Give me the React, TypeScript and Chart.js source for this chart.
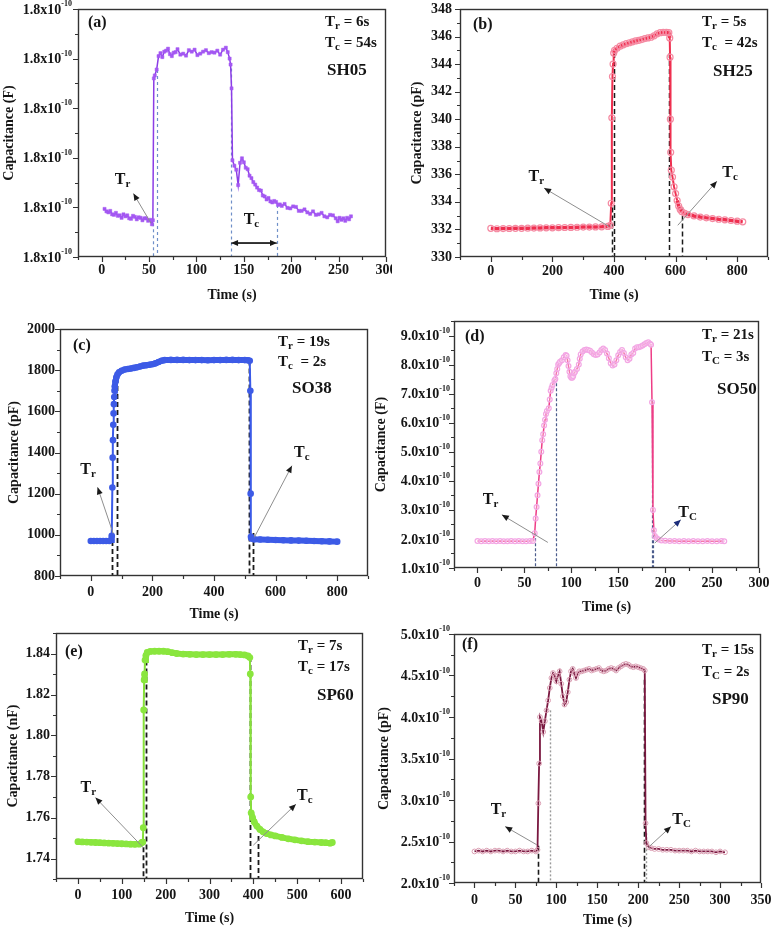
import React, { useEffect, useRef } from 'react';
import { Chart, registerables } from 'chart.js';
Chart.register(...registerables);

const SERIF = '"Liberation Serif", "Times New Roman", Times, serif';
const INK = '#151515';

// ---------------- data ----------------
// (a) SH05, capacitance in units of 1e-10 F
const aTime = [3,5,7,9,11,13,15,17,19,21,23,25,27,29,31,33,35,37,39,41,43,45,47,49,51,53,54,55,56,58,60,62,64,66,68,70,72,74,76,78,80,83,86,89,92,95,98,101,104,107,110,113,116,119,122,125,128,131,133,135,136,137,138,140,142,144,146,148,150,152,154,156,158,160,162,164,166,168,170,172,174,176,178,180,182,184,186,188,190,193,196,199,202,205,208,211,214,217,220,223,226,229,232,235,238,241,244,247,249,251,253,255,257,259,261,263];
const aCap = [1.7897,1.7892,1.7890,1.7893,1.7886,1.7885,1.7889,1.7883,1.7884,1.7879,1.7886,1.7882,1.7884,1.7878,1.7877,1.7883,1.7881,1.7876,1.7880,1.7879,1.7874,1.7878,1.7878,1.7873,1.7875,1.7866,1.7874,1.8160,1.8166,1.8178,1.8205,1.8211,1.8203,1.8214,1.8216,1.8220,1.8209,1.8205,1.8212,1.8213,1.8219,1.8208,1.8210,1.8206,1.8217,1.8214,1.8218,1.8207,1.8210,1.8214,1.8217,1.8211,1.8213,1.8212,1.8216,1.8208,1.8218,1.8222,1.8213,1.8200,1.8188,1.8140,1.7995,1.7984,1.7976,1.7945,1.7990,1.7999,1.7991,1.7980,1.7977,1.7964,1.7959,1.7951,1.7946,1.7940,1.7935,1.7934,1.7924,1.7922,1.7916,1.7919,1.7912,1.7910,1.7913,1.7911,1.7905,1.7906,1.7903,1.7907,1.7899,1.7898,1.7902,1.7901,1.7893,1.7893,1.7896,1.7890,1.7887,1.7892,1.7885,1.7886,1.7889,1.7882,1.7880,1.7885,1.7884,1.7878,1.7872,1.7879,1.7875,1.7878,1.7873,1.7879,1.7876,1.7882];
const aXTicks = [0,50,100,150,200,250,300];
const aXMinor = [-25,25,75,125,175,225,275];
const aYTicks = [1.78,1.79,1.80,1.81,1.82,1.83];
const aYMinor = [1.785,1.795,1.805,1.815,1.825];

// (b) SH25, pF
const bTime = [0,20,40,60,80,100,120,140,160,180,200,220,240,260,280,300,320,340,360,380,388,391,393,395,397,399,402,410,420,430,440,450,460,470,480,490,500,510,520,530,540,550,560,570,578,581,582,583,584,586,590,595,600,605,610,615,620,630,640,660,680,700,720,740,760,780,800,818];
const bCap = [332.08,332.05,332.06,332.07,332.08,332.08,332.09,332.10,332.11,332.12,332.12,332.13,332.14,332.15,332.16,332.17,332.17,332.18,332.19,332.22,332.30,333.90,340.10,343.10,344.00,344.80,345.00,345.15,345.30,345.40,345.48,345.55,345.62,345.68,345.73,345.78,345.85,345.90,345.95,346.05,346.20,346.28,346.30,346.30,346.28,345.90,344.50,340.00,337.60,336.30,335.80,335.10,334.60,334.10,333.70,333.45,333.30,333.17,333.08,332.98,332.90,332.84,332.79,332.74,332.70,332.65,332.60,332.55];
const bXTicks = [0,200,400,600,800];
const bXMinor = [-100,100,300,500,700,900];
const bYTicks = [330,332,334,336,338,340,342,344,346,348];
const bYMinor = [331,333,335,337,339,341,343,345,347];

// (c) SO38, pF
const cTime = [0,10,20,30,40,50,60,66,68,70,71,72,73,74,75,76,77,78,80,83,87,92,100,110,120,130,140,150,160,170,180,190,200,210,220,230,240,260,280,300,320,340,360,380,400,420,440,460,480,500,510,516,518,519,520,522,530,550,575,600,625,650,675,700,725,750,775,800];
const cCap = [970,970,970,970,970,970,970,975,995,1230,1375,1460,1535,1590,1635,1670,1700,1722,1745,1765,1780,1790,1797,1803,1806,1808,1811,1814,1818,1822,1824,1826,1829,1833,1840,1846,1849,1850,1850,1850,1849,1849,1849,1848,1849,1849,1850,1850,1849,1849,1848,1846,1700,1200,990,982,978,977,976,975,974,973,972,971,970,969,968,967];
const cXTicks = [0,200,400,600,800];
const cXMinor = [-100,100,300,500,700,900];
const cYTicks = [800,1000,1200,1400,1600,1800,2000];
const cYMinor = [900,1100,1300,1500,1700,1900];

// (d) SO50, capacitance in units of 1e-10 F
const dTime = [0,4,8,12,16,20,24,28,32,36,40,44,48,52,56,59,61,62,63,64,65,66,67,68,69,70,71,72,73,74,76,77,78,79,80,82,83,84,85,86,87,88,90,92,94,95,96,97,98,99,100,101,102,103,104,106,108,109,110,112,114,116,118,120,122,124,126,128,130,132,134,136,138,140,142,144,146,148,150,152,154,156,158,160,162,164,166,168,170,172,174,176,178,180,182,184,185,186,187,188,189,191,193,196,200,205,210,215,220,225,230,235,240,245,250,255,260,263];
const dCap = [1.93,1.92,1.93,1.92,1.93,1.92,1.93,1.92,1.92,1.93,1.92,1.93,1.92,1.92,1.93,1.93,2.2,2.7,3.1,3.5,3.9,4.3,4.6,5.0,5.4,5.6,5.9,6.1,6.3,6.4,6.5,6.8,7.1,7.2,7.3,7.45,7.5,7.7,7.85,8.0,8.05,8.1,8.15,8.25,8.33,8.3,8.15,7.95,7.75,7.6,7.55,7.55,7.6,7.7,7.75,7.85,8.0,8.2,8.35,8.45,8.5,8.52,8.5,8.48,8.42,8.36,8.33,8.35,8.42,8.5,8.55,8.5,8.38,8.22,8.05,7.97,8.0,8.15,8.32,8.43,8.5,8.4,8.25,8.15,8.2,8.35,8.4,8.55,8.6,8.6,8.62,8.66,8.7,8.74,8.77,8.72,8.68,6.7,3.0,2.3,2.1,2.02,1.98,1.95,1.94,1.93,1.93,1.92,1.93,1.92,1.93,1.92,1.92,1.93,1.92,1.92,1.93,1.92];
const dXTicks = [0,50,100,150,200,250,300];
const dXMinor = [-25,25,75,125,175,225,275];
const dYTicks = [1,2,3,4,5,6,7,8,9];
const dYMinor = [1.5,2.5,3.5,4.5,5.5,6.5,7.5,8.5,9.5];

// (e) SP60, nF
const eTime = [0,10,20,30,40,50,60,70,80,90,100,110,120,130,140,146,148,149,150,151,152,153,155,158,165,175,185,195,205,215,225,240,255,270,285,300,315,330,345,360,370,380,388,392,393,394,395,398,402,408,415,422,430,440,450,465,480,495,510,525,540,555,565,575,580];
const eCap = [1.7482,1.7481,1.7480,1.7479,1.7478,1.7477,1.7476,1.7475,1.7474,1.7473,1.7472,1.7471,1.7470,1.7469,1.7470,1.7478,1.7480,1.7550,1.8125,1.8271,1.8300,1.8368,1.8390,1.8405,1.8410,1.8411,1.8411,1.8411,1.8409,1.8404,1.8400,1.8397,1.8396,1.8395,1.8395,1.8395,1.8395,1.8395,1.8396,1.8396,1.8395,1.8393,1.8388,1.8380,1.8300,1.7700,1.7623,1.7600,1.7578,1.7558,1.7542,1.7530,1.7522,1.7515,1.7510,1.7503,1.7496,1.7491,1.7486,1.7482,1.7480,1.7478,1.7477,1.7475,1.7478];
const eXTicks = [0,100,200,300,400,500,600];
const eXMinor = [-50,50,150,250,350,450,550,650];
const eYTicks = [1.74,1.76,1.78,1.80,1.82,1.84];
const eYMinor = [1.73,1.75,1.77,1.79,1.81,1.83,1.85];

// (f) SP90, capacitance in units of 1e-10
const fTime = [0,5,10,15,20,25,30,35,40,45,50,55,60,65,70,75,77,78,79,80,82,84,86,88,90,92,94,96,98,100,102,104,106,108,110,112,114,116,118,120,122,124,126,128,131,134,137,140,143,146,149,152,155,158,161,164,167,170,173,176,179,182,185,188,191,194,197,200,203,206,208,209,210,213,216,220,225,230,235,240,245,250,255,260,265,270,275,280,285,290,295,300,306];
const fCap = [2.38,2.39,2.38,2.39,2.38,2.39,2.39,2.38,2.39,2.38,2.38,2.39,2.38,2.38,2.39,2.38,2.40,2.96,3.44,4.00,3.95,3.82,3.95,4.08,4.20,4.35,4.47,4.53,4.50,4.43,4.50,4.55,4.40,4.25,4.15,4.18,4.30,4.45,4.55,4.58,4.52,4.47,4.52,4.55,4.55,4.56,4.57,4.58,4.56,4.57,4.58,4.59,4.56,4.55,4.56,4.58,4.59,4.58,4.56,4.59,4.61,4.63,4.64,4.63,4.61,4.60,4.61,4.60,4.59,4.58,4.56,2.72,2.48,2.43,2.42,2.41,2.41,2.40,2.40,2.40,2.39,2.39,2.39,2.39,2.38,2.39,2.38,2.38,2.38,2.38,2.37,2.38,2.37];
const fXTicks = [0,50,100,150,200,250,300,350];
const fXMinor = [-25,25,75,125,175,225,275,325];
const fYTicks = [2.0,2.5,3.0,3.5,4.0,4.5,5.0];
const fYMinor = [2.25,2.75,3.25,3.75,4.25,4.75];

// ---------------- panel configs ----------------
type Seg = [string, number, number];
interface VLine { x: number; y: number; color: string; dash: number[]; w: number }
interface Arrow { x0: number; y0: number; x1: number; y1: number; head: string }
interface Mark { x: number; y: number; sub: string }
interface Cfg {
  box: number[]; area: number[];
  xMin: number; xMax: number; yMin: number; yMax: number;
  xTicks: number[]; xMinor: number[]; yTicks: number[]; yMinor: number[];
  sci: boolean; yDigits: number;
  yTitle: string; yTitleX: number; yLabelRight: number; xLabelY: number; xTitleY: number;
  xs: number[]; ys: number[]; style: any; thick?: number;
  vlines: VLine[]; arrows: Arrow[]; dbl?: { x0: number; x1: number; y: number }; marks: Mark[];
  tag: string; tagPos: number[];
  info: { dx: number; dy1: number; dy2: number; s1: string; r1: string; s2: string; r2: string };
  name: { text: string; dx: number; dy: number };
}

const BLK = '#1a1a1a';
const panels: Cfg[] = [
  {
    box: [0, 0, 392, 305], area: [78, 9, 386, 257],
    xMin: -25, xMax: 300, yMin: 1.78, yMax: 1.83,
    xTicks: aXTicks, xMinor: aXMinor, yTicks: aYTicks, yMinor: aYMinor, sci: true, yDigits: 1,
    yTitle: 'Capacitance (F)', yTitleX: 9, yLabelRight: 72, xLabelY: 270, xTitleY: 295,
    xs: aTime, ys: aCap,
    style: { borderColor: '#8b3de6', borderWidth: 1.5, pointStyle: 'rect', pointRadius: 2.2, pointBackgroundColor: '#a458f2', pointBorderColor: '#a458f2', pointBorderWidth: 0.5 },
    vlines: [
      { x: 54, y: 1.7868, color: '#6f8fc8', dash: [3, 3], w: 1.2 },
      { x: 58.5, y: 1.8177, color: '#6f8fc8', dash: [3, 3], w: 1.2 },
      { x: 136.5, y: 1.8180, color: '#6f8fc8', dash: [3, 3], w: 1.2 },
      { x: 185, y: 1.7905, color: '#6f8fc8', dash: [3, 3], w: 1.2 },
    ],
    arrows: [{ x0: 52, y0: 1.7868, x1: 33.5, y1: 1.7928, head: BLK }],
    dbl: { x0: 136.5, x1: 185, y: 1.7828 },
    marks: [{ x: 22, y: 1.7955, sub: 'r' }, { x: 158, y: 1.7875, sub: 'c' }],
    tag: '(a)', tagPos: [10, 14],
    info: { dx: 247, dy1: 13, dy2: 34, s1: 'r', r1: ' = 6s', s2: 'c', r2: ' = 54s' },
    name: { text: 'SH05', dx: 249, dy: 62 },
  },
  {
    box: [400, 0, 374, 305], area: [460, 9, 768, 257],
    xMin: -100, xMax: 900, yMin: 330, yMax: 348,
    xTicks: bXTicks, xMinor: bXMinor, yTicks: bYTicks, yMinor: bYMinor, sci: false, yDigits: 0,
    yTitle: 'Capacitance (pF)', yTitleX: 417, yLabelRight: 452, xLabelY: 271.7, xTitleY: 295,
    xs: bTime, ys: bCap, thick: 3.5,
    style: { borderColor: '#ef2f4f', borderWidth: 2, pointRadius: 3, pointBackgroundColor: 'rgba(255,255,255,0)', pointBorderColor: '#f58aa2', pointBorderWidth: 1.2 },
    vlines: [
      { x: 392.5, y: 333.6, color: BLK, dash: [5, 3], w: 1.5 },
      { x: 401, y: 344.8, color: BLK, dash: [5, 3], w: 1.5 },
      { x: 579, y: 344.8, color: BLK, dash: [5, 3], w: 1.5 },
      { x: 620, y: 333.6, color: BLK, dash: [5, 3], w: 1.5 },
    ],
    arrows: [
      { x0: 385, y0: 332.2, x1: 173, y1: 335.0, head: BLK },
      { x0: 607, y0: 332.3, x1: 734, y1: 335.5, head: BLK },
    ],
    marks: [{ x: 148, y: 335.8, sub: 'r' }, { x: 777, y: 336.1, sub: 'c' }],
    tag: '(b)', tagPos: [13, 16],
    info: { dx: 242, dy1: 13, dy2: 34, s1: 'r', r1: ' = 5s', s2: 'c', r2: '  = 42s' },
    name: { text: 'SH25', dx: 253, dy: 63 },
  },
  {
    box: [0, 315, 385, 310], area: [60, 329, 368, 576],
    xMin: -100, xMax: 900, yMin: 800, yMax: 2000,
    xTicks: cXTicks, xMinor: cXMinor, yTicks: cYTicks, yMinor: cYMinor, sci: false, yDigits: 0,
    yTitle: 'Capacitance (pF)', yTitleX: 14, yLabelRight: 55, xLabelY: 592.7, xTitleY: 614,
    xs: cTime, ys: cCap, thick: 6,
    style: { borderColor: '#3a5ae8', borderWidth: 2, pointRadius: 3.3, pointBackgroundColor: '#3d5be6', pointBorderColor: '#3d5be6', pointBorderWidth: 0 },
    vlines: [
      { x: 68, y: 1009, color: BLK, dash: [5, 3], w: 1.8 },
      { x: 86, y: 1762, color: BLK, dash: [5, 3], w: 1.8 },
      { x: 515, y: 1847, color: BLK, dash: [5, 3], w: 1.8 },
      { x: 525.5, y: 1009, color: BLK, dash: [5, 3], w: 1.8 },
    ],
    arrows: [
      { x0: 72.5, y0: 1007, x1: 22, y1: 1231, head: BLK },
      { x0: 531, y0: 988, x1: 653, y1: 1336, head: BLK },
    ],
    marks: [{ x: -9, y: 1315, sub: 'r' }, { x: 685, y: 1396, sub: 'c' }],
    tag: '(c)', tagPos: [13, 17],
    info: { dx: 218, dy1: 13, dy2: 33, s1: 'r', r1: ' = 19s', s2: 'c', r2: '  = 2s' },
    name: { text: 'SO38', dx: 232, dy: 60 },
  },
  {
    box: [370, 315, 404, 310], area: [454, 321, 759, 568],
    xMin: -25, xMax: 300, yMin: 1, yMax: 9.5,
    xTicks: dXTicks, xMinor: dXMinor, yTicks: dYTicks, yMinor: dYMinor, sci: true, yDigits: 1,
    yTitle: 'Capacitance (F)', yTitleX: 381, yLabelRight: 450, xLabelY: 583.3, xTitleY: 607,
    xs: dTime, ys: dCap,
    style: { borderColor: '#ee3d86', borderWidth: 1.5, pointRadius: 2.4, pointBackgroundColor: 'rgba(255,255,255,0.3)', pointBorderColor: '#f3a6e4', pointBorderWidth: 1.2 },
    vlines: [
      { x: 61.5, y: 2.2, color: '#4b5c8c', dash: [3, 2], w: 1.2 },
      { x: 84, y: 7.53, color: '#4b5c8c', dash: [3, 2], w: 1.2 },
      { x: 185.5, y: 6.77, color: '#4b5c8c', dash: [3, 2], w: 1.2 },
      { x: 187.5, y: 2.3, color: '#4b5c8c', dash: [3, 2], w: 1.2 },
    ],
    arrows: [
      { x0: 75, y0: 1.88, x1: 26, y1: 2.83, head: BLK },
      { x0: 189, y0: 1.86, x1: 216.7, y1: 2.66, head: '#1c2d7a' },
    ],
    marks: [{ x: 14, y: 3.34, sub: 'r' }, { x: 224, y: 2.89, sub: 'C' }],
    tag: '(d)', tagPos: [11, 16],
    info: { dx: 248, dy1: 14, dy2: 36, s1: 'r', r1: ' = 21s', s2: 'C', r2: ' = 3s' },
    name: { text: 'SO50', dx: 263, dy: 69 },
  },
  {
    box: [0, 625, 385, 305], area: [56, 633, 363, 879],
    xMin: -50, xMax: 650, yMin: 1.73, yMax: 1.85,
    xTicks: eXTicks, xMinor: eXMinor, yTicks: eYTicks, yMinor: eYMinor, sci: false, yDigits: 2,
    yTitle: 'Capacitance (nF)', yTitleX: 13, yLabelRight: 50, xLabelY: 895, xTitleY: 918,
    xs: eTime, ys: eCap, thick: 6,
    style: { borderColor: '#86e03a', borderWidth: 2, pointRadius: 3.4, pointBackgroundColor: '#8ae63e', pointBorderColor: '#8ae63e', pointBorderWidth: 0 },
    vlines: [
      { x: 147.4, y: 1.7494, color: BLK, dash: [5, 3], w: 1.8 },
      { x: 155, y: 1.8405, color: BLK, dash: [5, 3], w: 1.8 },
      { x: 392, y: 1.8383, color: BLK, dash: [5, 3], w: 1.8 },
      { x: 409.6, y: 1.751, color: BLK, dash: [5, 3], w: 1.8 },
    ],
    arrows: [
      { x0: 149, y0: 1.7453, x1: 40, y1: 1.7697, head: BLK },
      { x0: 400, y0: 1.7465, x1: 497, y1: 1.7665, head: BLK },
    ],
    marks: [{ x: 23.5, y: 1.7745, sub: 'r' }, { x: 517.5, y: 1.7704, sub: 'c' }],
    tag: '(e)', tagPos: [9, 19],
    info: { dx: 242, dy1: 13, dy2: 34, s1: 'r', r1: ' = 7s', s2: 'c', r2: ' = 17s' },
    name: { text: 'SP60', dx: 261, dy: 63 },
  },
  {
    box: [370, 625, 404, 305], area: [454, 634, 761, 883],
    xMin: -25, xMax: 350, yMin: 2, yMax: 5,
    xTicks: fXTicks, xMinor: fXMinor, yTicks: fYTicks, yMinor: fYMinor, sci: true, yDigits: 1,
    yTitle: 'Capacitance (pF)', yTitleX: 384, yLabelRight: 450, xLabelY: 900, xTitleY: 920,
    xs: fTime, ys: fCap,
    style: { borderColor: '#7a1840', borderWidth: 1.8, pointRadius: 2.4, pointBackgroundColor: 'rgba(0,0,0,0)', pointBorderColor: '#dba0b4', pointBorderWidth: 1 },
    vlines: [
      { x: 77.4, y: 2.45, color: BLK, dash: [5, 3], w: 1.6 },
      { x: 92, y: 4.08, color: '#9a9a9a', dash: [2, 2], w: 1.4 },
      { x: 207, y: 4.45, color: BLK, dash: [5, 3], w: 1.6 },
      { x: 209, y: 2.6, color: '#9a9a9a', dash: [2, 2], w: 1.4 },
    ],
    arrows: [
      { x0: 76.2, y0: 2.46, x1: 37.5, y1: 2.68, head: BLK },
      { x0: 212.5, y0: 2.43, x1: 240, y1: 2.68, head: BLK },
    ],
    marks: [{ x: 29.3, y: 2.88, sub: 'r' }, { x: 253, y: 2.76, sub: 'C' }],
    tag: '(f)', tagPos: [8, 11],
    info: { dx: 248, dy1: 16, dy2: 38, s1: 'r', r1: ' = 15s', s2: 'C', r2: ' = 2s' },
    name: { text: 'SP90', dx: 258, dy: 66 },
  },
];

// ---------------- drawing helpers ----------------
function drawSegs(ctx: CanvasRenderingContext2D, list: Seg[], x: number, y: number, align: 'left' | 'center' | 'right') {
  let w = 0;
  for (const [t, s] of list) { ctx.font = `bold ${s}px ${SERIF}`; w += ctx.measureText(t).width; }
  let cx = align === 'center' ? x - w / 2 : align === 'right' ? x - w : x;
  ctx.textAlign = 'left';
  ctx.textBaseline = 'middle';
  for (const [t, s, dy] of list) {
    ctx.font = `bold ${s}px ${SERIF}`;
    ctx.fillText(t, cx, y + dy);
    cx += ctx.measureText(t).width;
  }
}

function drawArrow(ctx: CanvasRenderingContext2D, x0: number, y0: number, x1: number, y1: number, line: string, head: string) {
  ctx.setLineDash([]);
  ctx.strokeStyle = line;
  ctx.lineWidth = 1;
  ctx.beginPath(); ctx.moveTo(x0, y0); ctx.lineTo(x1, y1); ctx.stroke();
  const a = Math.atan2(y1 - y0, x1 - x0);
  const L = 7, W = 3;
  ctx.fillStyle = head;
  ctx.beginPath();
  ctx.moveTo(x1, y1);
  ctx.lineTo(x1 - L * Math.cos(a) + W * Math.sin(a), y1 - L * Math.sin(a) - W * Math.cos(a));
  ctx.lineTo(x1 - L * Math.cos(a) - W * Math.sin(a), y1 - L * Math.sin(a) + W * Math.cos(a));
  ctx.closePath();
  ctx.fill();
}

function makePlugin(c: Cfg) {
  return {
    id: 'panelDecor',
    beforeDatasetsDraw(chart: any) {
      const { ctx, chartArea } = chart;
      const xs = chart.scales.x, ys = chart.scales.y;
      ctx.save();
      for (const v of c.vlines) {
        ctx.strokeStyle = v.color; ctx.lineWidth = v.w; ctx.setLineDash(v.dash);
        const px = Math.round(xs.getPixelForValue(v.x)) + 0.5;
        ctx.beginPath(); ctx.moveTo(px, ys.getPixelForValue(v.y)); ctx.lineTo(px, chartArea.bottom); ctx.stroke();
      }
      ctx.restore();
    },
    afterDraw(chart: any) {
      const { ctx, chartArea } = chart;
      const { left, top, right, bottom } = chartArea;
      const xs = chart.scales.x, ys = chart.scales.y;
      ctx.save();
      // frame
      ctx.setLineDash([]);
      ctx.strokeStyle = '#333'; ctx.lineWidth = 1.4;
      ctx.strokeRect(Math.round(left) + 0.5, Math.round(top) + 0.5, Math.round(right - left) - 1, Math.round(bottom - top) - 1);
      // ticks
      ctx.strokeStyle = '#333';
      ctx.lineWidth = 1.2;
      const bx = Math.round(bottom);
      const lx = Math.round(left);
      ctx.beginPath();
      for (const v of c.xTicks) { const p = Math.round(xs.getPixelForValue(v)) + 0.5; ctx.moveTo(p, bx); ctx.lineTo(p, bx + 5); }
      for (const v of c.xMinor) { const p = Math.round(xs.getPixelForValue(v)) + 0.5; ctx.moveTo(p, bx); ctx.lineTo(p, bx + 3); }
      for (const v of c.yTicks) { const p = Math.round(ys.getPixelForValue(v)) + 0.5; ctx.moveTo(lx, p); ctx.lineTo(lx - 5, p); }
      for (const v of c.yMinor) { const p = Math.round(ys.getPixelForValue(v)) + 0.5; ctx.moveTo(lx, p); ctx.lineTo(lx - 3, p); }
      ctx.stroke();
      ctx.fillStyle = INK;
      // scientific tick labels
      if (c.sci) {
        const rx = c.yLabelRight - c.box[0];
        for (const v of c.yTicks) {
          const p = ys.getPixelForValue(v);
          ctx.font = `bold 8px ${SERIF}`;
          const supW = ctx.measureText('-10').width;
          ctx.textBaseline = 'middle';
          ctx.textAlign = 'right';
          ctx.font = `bold 14px ${SERIF}`;
          ctx.fillText(v.toFixed(c.yDigits) + 'x10', rx - supW, p + 1);
          ctx.textAlign = 'left';
          ctx.font = `bold 8px ${SERIF}`;
          ctx.fillText('-10', rx - supW, p - 5);
        }
      }
      // double arrow
      if (c.dbl) {
        const x0 = xs.getPixelForValue(c.dbl.x0), x1 = xs.getPixelForValue(c.dbl.x1), y = ys.getPixelForValue(c.dbl.y);
        const mid = (x0 + x1) / 2;
        drawArrow(ctx, mid, y, x0, y, BLK, BLK);
        drawArrow(ctx, mid, y, x1, y, BLK, BLK);
        ctx.strokeStyle = BLK;
        ctx.lineWidth = 1.5;
        ctx.beginPath(); ctx.moveTo(x0 + 4, y); ctx.lineTo(x1 - 4, y); ctx.stroke();
      }
      // arrows
      for (const a of c.arrows) {
        drawArrow(ctx, xs.getPixelForValue(a.x0), ys.getPixelForValue(a.y0), xs.getPixelForValue(a.x1), ys.getPixelForValue(a.y1), '#8e8e8e', a.head);
      }
      ctx.fillStyle = INK;
      for (const m of c.marks) {
        drawSegs(ctx, [['T', 16, 0], [m.sub, 11, 4]], xs.getPixelForValue(m.x), ys.getPixelForValue(m.y), 'center');
      }
      // panel texts
      drawSegs(ctx, [[c.tag, 16, 0]], left + c.tagPos[0], top + c.tagPos[1], 'left');
      drawSegs(ctx, [['T', 15, 0], [c.info.s1, 11, 4], [c.info.r1, 15, 0]], left + c.info.dx, top + c.info.dy1, 'left');
      drawSegs(ctx, [['T', 15, 0], [c.info.s2, 11, 4], [c.info.r2, 15, 0]], left + c.info.dx, top + c.info.dy2, 'left');
      drawSegs(ctx, [[c.name.text, 17, 0]], left + c.name.dx, top + c.name.dy, 'left');
      ctx.restore();
    },
  };
}

function Panel({ c }: { c: Cfg }) {
  const ref = useRef<HTMLCanvasElement>(null);
  useEffect(() => {
    const [bx, by, bw, bh] = c.box;
    const [L, T, R, B] = c.area;
    const yW = L - bx;
    const xH = by + bh - B;
    const tickFont = { family: SERIF, size: 14, weight: 'bold' as const };
    const thin = c.style.borderWidth;
    const segment = c.thick
      ? { borderWidth: (s: any) => (Math.abs(s.p1.y - s.p0.y) > 6 ? thin : c.thick) }
      : undefined;
    const chart = new Chart(ref.current as HTMLCanvasElement, {
      type: 'line',
      data: {
        datasets: [{
          data: c.xs.map((x, i) => ({ x, y: c.ys[i] })),
          tension: 0,
          ...c.style,
          ...(segment ? { segment } : {}),
        }],
      },
      options: {
        animation: false,
        responsive: false,
        maintainAspectRatio: false,
        layout: { padding: { left: 0, top: T - by, right: bx + bw - R, bottom: 0 } },
        plugins: { legend: { display: false }, tooltip: { enabled: false } },
        scales: {
          x: {
            type: 'linear', min: c.xMin, max: c.xMax,
            grid: { display: false, drawTicks: false },
            border: { display: false },
            afterBuildTicks: (s: any) => { s.ticks = c.xTicks.map((v) => ({ value: v })); },
            afterFit: (s: any) => { s.height = xH; s.paddingLeft = 0; s.paddingRight = 0; },
            ticks: {
              autoSkip: false, maxRotation: 0, color: INK, font: tickFont,
              padding: c.xLabelY - B - 8.4,
              callback: (v: any) => String(v),
            },
            title: {
              display: true, text: 'Time (s)', color: INK, font: { family: SERIF, size: 14, weight: 'bold' },
              padding: { top: 0, bottom: Math.max(0, by + bh - c.xTitleY - 8.4) },
            },
          },
          y: {
            type: 'linear', min: c.yMin, max: c.yMax,
            grid: { display: false, drawTicks: false },
            border: { display: false },
            afterBuildTicks: (s: any) => { s.ticks = c.yTicks.map((v) => ({ value: v })); },
            afterFit: (s: any) => { s.width = yW; s.paddingTop = 0; s.paddingBottom = 0; },
            ticks: {
              display: !c.sci, autoSkip: false, color: INK, font: tickFont,
              padding: L - c.yLabelRight,
              callback: (v: any) => Number(v).toFixed(c.yDigits),
            },
            title: {
              display: true, text: c.yTitle, color: INK, font: { family: SERIF, size: 14, weight: 'bold' },
              padding: { top: Math.max(0, c.yTitleX - bx - 8.4), bottom: 0 },
            },
          },
        },
      } as any,
      plugins: [makePlugin(c)],
    });
    return () => chart.destroy();
  }, [c]);
  const [bx, by, bw, bh] = c.box;
  return (
    <canvas
      ref={ref}
      width={bw}
      height={bh}
      style={{ position: 'absolute', left: bx, top: by, width: bw, height: bh }}
    />
  );
}

export default function App() {
  return (
    <div style={{ position: 'absolute', left: 0, top: 0, width: 774, height: 930, background: '#fff', overflow: 'hidden' }}>
      {panels.map((c, i) => <Panel key={i} c={c} />)}
    </div>
  );
}
